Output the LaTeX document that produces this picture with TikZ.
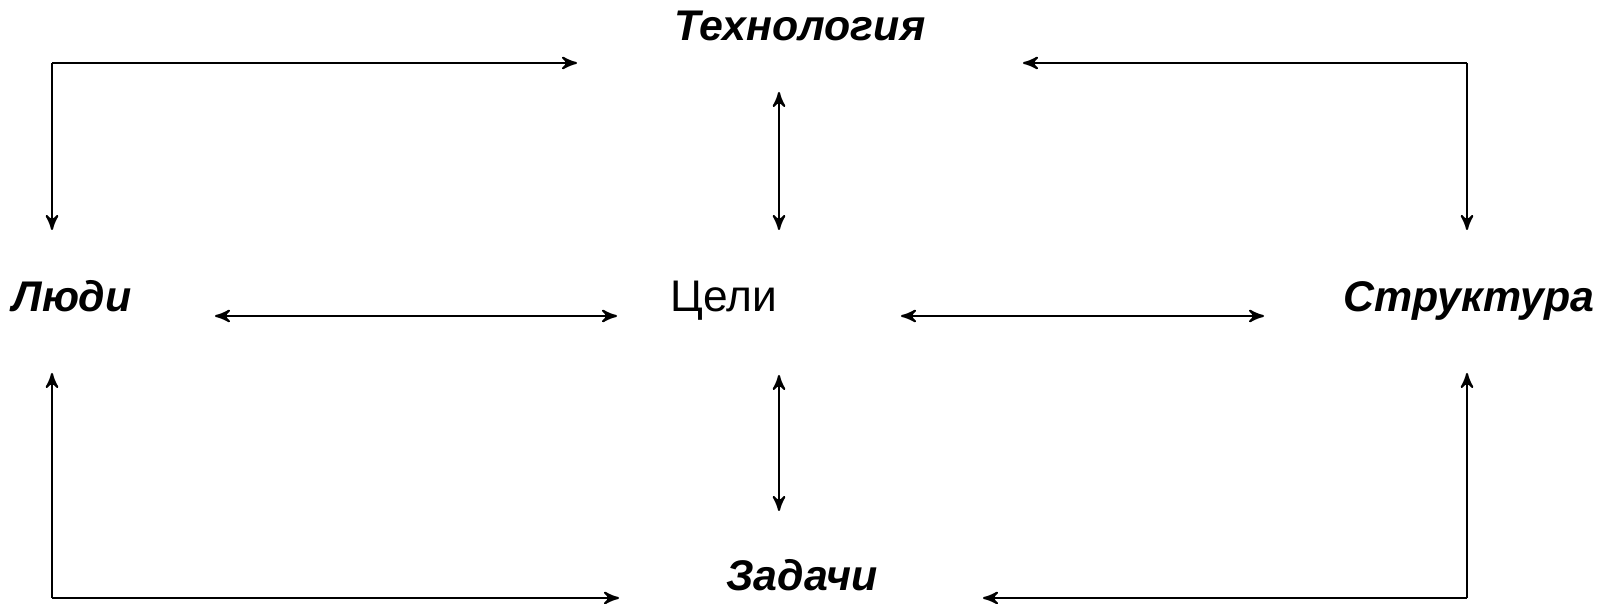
\documentclass[tikz,border=0pt]{standalone}
\usepackage{fontspec}
\setmainfont{Liberation Sans}
\usetikzlibrary{arrows,positioning}

\begin{document}
\begin{tikzpicture}[->,>=stealth',semithick,
                    factor/.style={anchor=base,inner sep=0pt,font=\fontsize{12.2}{14}\selectfont\bfseries\itshape},
                    goal/.style={anchor=base,inner sep=0pt,font=\fontsize{12.6}{14}\selectfont}]
                \useasboundingbox (0,0) rectangle (16.08,6.04);
                % texts
                \node [factor] (tech)  at (8.00,5.63) {Технология};
                \node [factor] (people) at (0.72,2.92) {Люди};
                \node [goal]   (goals) at (7.24,2.92) {Цели};
                \node [factor] (struct) at (14.69,2.92) {Структура};
                \node [factor] (tasks) at (8.02,0.13) {Задачи};
                % corners and arrow ends
                \coordinate (tl)  at (0.52,5.41);
                \coordinate (tr)  at (14.67,5.41);
                \coordinate (bl)  at (0.52,0.06);
                \coordinate (br)  at (14.67,0.06);
                \coordinate (tlE) at (5.77,5.41);
                \coordinate (tlS) at (0.52,3.74);
                \coordinate (trW) at (10.23,5.41);
                \coordinate (trS) at (14.67,3.74);
                \coordinate (blE) at (6.19,0.06);
                \coordinate (blN) at (0.52,2.31);
                \coordinate (brW) at (9.83,0.06);
                \coordinate (brN) at (14.67,2.31);
                \coordinate (cT1) at (7.79,5.12);
                \coordinate (cT2) at (7.79,3.74);
                \coordinate (cB1) at (7.79,2.29);
                \coordinate (cB2) at (7.79,0.93);
                \coordinate (hL1) at (2.15,2.88);
                \coordinate (hL2) at (6.17,2.88);
                \coordinate (hR1) at (9.01,2.88);
                \coordinate (hR2) at (12.64,2.88);
                % outer loops
                \draw (tl) -- (tlE);
                \draw (tl) -- (tlS);
                \draw (tr) -- (trW);
                \draw (tr) -- (trS);
                \draw (bl) -- (blE);
                \draw (bl) -- (blN);
                \draw (br) -- (brW);
                \draw (br) -- (brN);
                % links to the goals
                \draw [<->] (cT1) -- (cT2);
                \draw [<->] (cB1) -- (cB2);
                \draw [<->] (hL1) -- (hL2);
                \draw [<->] (hR1) -- (hR2);
            \end{tikzpicture}
\end{document}
